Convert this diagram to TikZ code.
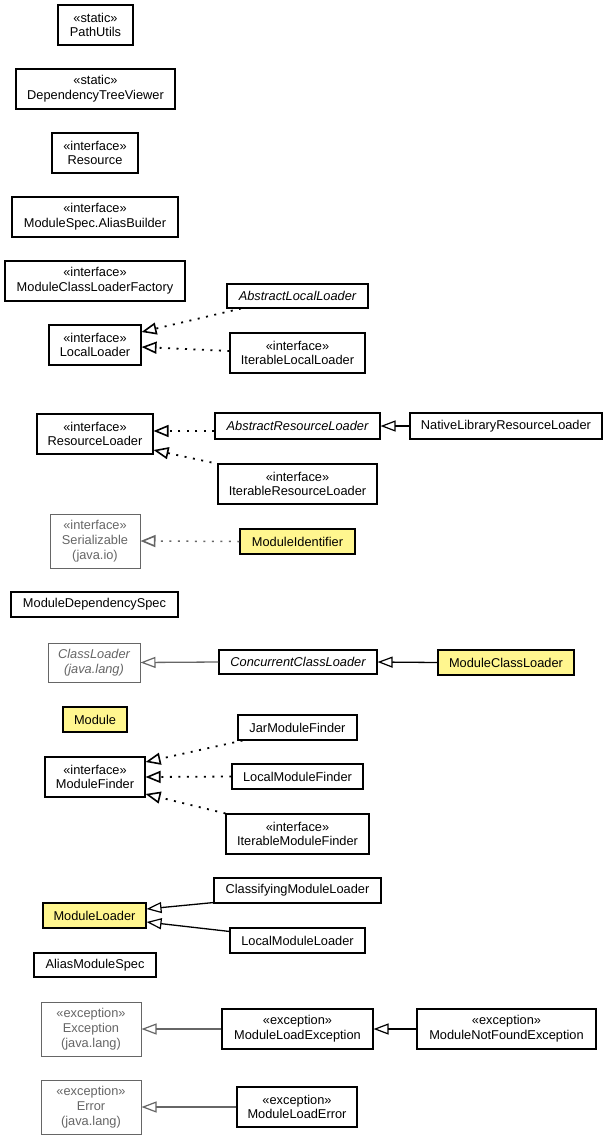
\documentclass[tikz,border=0pt]{standalone}
\usepackage{fontspec}
\setmainfont{Liberation Sans}
\usetikzlibrary{arrows.meta}
\definecolor{umlyellow}{HTML}{FFF68F}
\definecolor{umlgray}{HTML}{666666}
\tikzset{
  cls/.style={draw=black, line width=1.1pt, fill=white, rectangle, inner sep=0pt, align=center,
    font=\fontsize{12.8pt}{14.7pt}\selectfont, text=black},
  ext/.style={cls, draw=umlgray, text=umlgray, line width=1pt},
  hl/.style={cls, fill=umlyellow},
  realize/.style={line width=1.8pt, dash pattern=on 2pt off 6.5pt, draw=black,
    -{Triangle[open, length=15pt, width=12pt, line width=1.6pt, fill=white]}},
  realizegray/.style={realize, draw=umlgray, line width=1.5pt},
  inherit/.style={line width=1.3pt, draw=black,
    -{Triangle[open, length=15pt, width=11pt, line width=1.2pt, fill=white]}},
  inheritgray/.style={inherit, draw=umlgray},
}
\begin{document}
\begin{tikzpicture}[x=1pt, y=-1pt]
\useasboundingbox (0,0) rectangle (608,1141);

\node[cls, minimum width=75pt, minimum height=40pt] (pu) at (95.5,25) {«static»\\PathUtils};
\node[cls, minimum width=159pt, minimum height=40pt] (dtv) at (95.5,89) {«static»\\DependencyTreeViewer};
\node[cls, minimum width=86pt, minimum height=40pt] (res) at (95,153) {«interface»\\Resource};
\node[cls, minimum width=166pt, minimum height=40pt] (msab) at (95,217) {«interface»\\ModuleSpec.AliasBuilder};
\node[cls, minimum width=180pt, minimum height=40pt] (mclf) at (95,281) {«interface»\\ModuleClassLoaderFactory};

\node[cls, minimum width=92pt, minimum height=40pt] (ll) at (95,345) {«interface»\\LocalLoader};
\node[cls, minimum width=141pt, minimum height=24pt] (all) at (297.5,296) {\itshape AbstractLocalLoader};
\node[cls, minimum width=135pt, minimum height=40pt] (ill) at (297.5,353) {«interface»\\IterableLocalLoader};

\node[cls, minimum width=116pt, minimum height=40pt] (rl) at (95,434) {«interface»\\ResourceLoader};
\node[cls, minimum width=165pt, minimum height=26pt] (arl) at (297.5,426) {\itshape AbstractResourceLoader};
\node[cls, minimum width=192pt, minimum height=26pt] (nlrl) at (506,426) {NativeLibraryResourceLoader};
\node[cls, minimum width=159pt, minimum height=40pt] (irl) at (297.5,484) {«interface»\\IterableResourceLoader};

\node[ext, minimum width=90pt, minimum height=54pt] (ser) at (95,541) {«interface»\\Serializable\\(java.io)};
\node[hl, minimum width=115pt, minimum height=25pt] (mid) at (297.5,541.5) {ModuleIdentifier};

\node[cls, minimum width=167pt, minimum height=25pt] (mds) at (94.5,604.5) {ModuleDependencySpec};

\node[ext, minimum width=92pt, minimum height=39pt] (cl) at (94,662.5) {\itshape ClassLoader\\\itshape (java.lang)};
\node[cls, minimum width=158pt, minimum height=24pt] (ccl) at (298,662) {\itshape ConcurrentClassLoader};
\node[hl, minimum width=136pt, minimum height=25pt] (mcl) at (506,662.5) {ModuleClassLoader};

\node[hl, minimum width=64pt, minimum height=25pt] (mod) at (95,719.5) {Module};
\node[cls, minimum width=119pt, minimum height=25pt] (jmf) at (297.5,727.5) {JarModuleFinder};
\node[cls, minimum width=100pt, minimum height=40pt] (mf) at (95,777) {«interface»\\ModuleFinder};
\node[cls, minimum width=131pt, minimum height=25pt] (lmf) at (297.5,776.5) {LocalModuleFinder};
\node[cls, minimum width=143pt, minimum height=40pt] (imf) at (297.5,834) {«interface»\\IterableModuleFinder};

\node[cls, minimum width=167pt, minimum height=25pt] (cml) at (297.5,890.5) {ClassifyingModuleLoader};
\node[hl, minimum width=103pt, minimum height=25pt] (ml) at (94.5,915.5) {ModuleLoader};
\node[cls, minimum width=135pt, minimum height=25pt] (lml) at (297.5,940.5) {LocalModuleLoader};
\node[cls, minimum width=122pt, minimum height=24pt] (ams) at (95,965) {AliasModuleSpec};

\node[ext, minimum width=100pt, minimum height=54pt] (exc) at (91,1029) {«exception»\\Exception\\(java.lang)};
\node[cls, minimum width=151pt, minimum height=40pt] (mle) at (297.5,1029) {«exception»\\ModuleLoadException};
\node[cls, minimum width=179pt, minimum height=40pt] (mnfe) at (506.5,1029) {«exception»\\ModuleNotFoundException};

\node[ext, minimum width=100pt, minimum height=54pt] (err) at (91,1107) {«exception»\\Error\\(java.lang)};
\node[cls, minimum width=120pt, minimum height=40pt] (mlerr) at (297,1107) {«exception»\\ModuleLoadError};

% realizations
\draw[realize] ([xshift=-56.5pt]all.south) -- ([yshift=13pt]ll.east);
\draw[realize] ([yshift=2pt]ill.west) -- ([yshift=-2pt]ll.east);
\draw[realize] ([yshift=-5pt]arl.west) -- ([yshift=3pt]rl.east);
\draw[realize] ([xshift=-6pt,yshift=1pt]irl.north west) -- ([yshift=-16pt]rl.east);
\draw[realizegray] (mid.west) -- (ser.east);
\draw[realize] ([xshift=5pt]jmf.south west) -- ([yshift=15pt]mf.east);
\draw[realize] (lmf.west) -- (mf.east);
\draw[realize] (imf.north west) -- ([yshift=-17pt]mf.east);

% inheritance
\draw[inherit] (nlrl.west) -- (arl.east);
\draw[inheritgray] (ccl.west) -- (cl.east);
\draw[inherit] (mcl.west) -- (ccl.east);
\draw[inherit] ([yshift=1pt]cml.south west) -- ([yshift=6.5pt]ml.east);
\draw[inherit] ([yshift=-4pt]lml.north west) -- ([yshift=-6.5pt]ml.east);
\draw[inheritgray] (mle.west) -- (exc.east);
\draw[inherit] (mnfe.west) -- (mle.east);
\draw[inheritgray] (mlerr.west) -- (err.east);
\end{tikzpicture}
\end{document}
